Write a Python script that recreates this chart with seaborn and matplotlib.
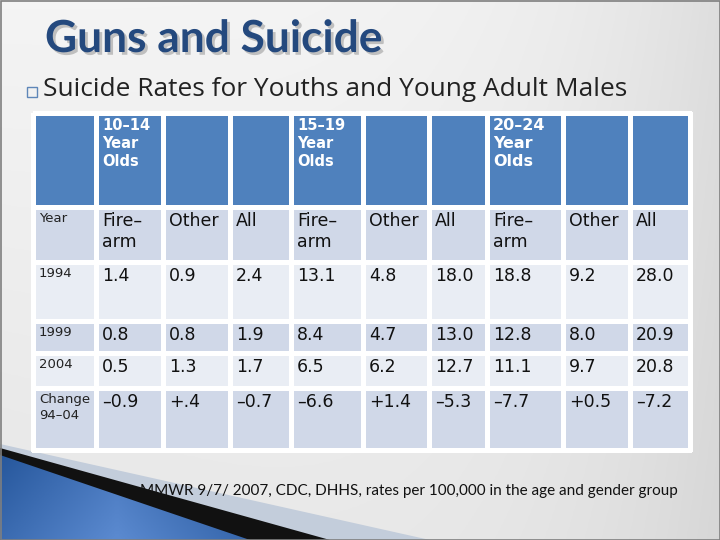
import numpy as np
import matplotlib.pyplot as plt
import matplotlib.patheffects as pe
import seaborn as sns
from matplotlib.colors import ListedColormap, LinearSegmentedColormap
from matplotlib.patches import Polygon, Rectangle

sns.set_theme(style='white')
plt.rcParams['font.family'] = ['DejaVu Sans']

# slide text
title = 'Guns and Suicide'
subtitle = 'Suicide Rates for Youths and Young Adult Males'
source = 'MMWR 9/7/ 2007, CDC, DHHS, rates per 100,000 in the age and gender group'

# table content
age_groups = ['10–14\nYear\nOlds', '15–19\nYear\nOlds', '20–24\nYear\nOlds']
methods = ['Fire–\narm', 'Other', 'All']
row_labels = ['1994', '1999', '2004', 'Change\n94–04']
rates_1994 = ['1.4', '0.9', '2.4', '13.1', '4.8', '18.0', '18.8', '9.2', '28.0']
rates_1999 = ['0.8', '0.8', '1.9', '8.4', '4.7', '13.0', '12.8', '8.0', '20.9']
rates_2004 = ['0.5', '1.3', '1.7', '6.5', '6.2', '12.7', '11.1', '9.7', '20.8']
change_94_04 = ['–0.9', '+.4', '–0.7', '–6.6', '+1.4', '–5.3', '–7.7', '+0.5', '–7.2']

# layout (pixels)
col_edges = [33, 96, 163, 230, 291, 363, 429, 487, 563, 630, 690]
row_edges = [113, 207, 262, 321, 353, 388, 450]
band = np.array([[0] * 10, [1] * 10, [2] * 10, [1] * 10, [2] * 10, [1] * 10])
band_cmap = ListedColormap(['#4F81BD', '#D0D8E8', '#E9EDF4'])

fig = plt.figure(figsize=(7.2, 5.4), dpi=100)
ax = fig.add_axes([0, 0, 1, 1])
ax.set_xlim(0, 720)
ax.set_ylim(540, 0)
ax.axis('off')
renderer = fig.canvas.get_renderer()


def fit_width(t, width):
    # scale the font so the text spans the given pixel width
    w = t.get_window_extent(renderer).width
    t.set_fontsize(t.get_fontsize() * width / w)


# slide background
gx, gy = np.meshgrid(np.linspace(0, 1, 240), np.linspace(0, 1, 180))
shade = 0.15 * gx ** 4 + 0.05 * gy + 0.04 * (1 - gx) * gy
bg_cmap = LinearSegmentedColormap.from_list('bg', ['#F4F4F4', '#C8C8C8'])
ax.imshow(shade, extent=(0, 720, 540, 0), cmap=bg_cmap, vmin=0, vmax=0.3,
          aspect='auto', zorder=0)
ax.add_patch(Rectangle((0.5, 0.5), 719, 539, fill=False, ec='#7F7F7F', lw=1.2, zorder=5))

# bottom-left swoosh
ax.add_patch(Polygon([(0, 444), (430, 540), (0, 540)], closed=True, fc='#C3CDDB', ec='none', zorder=1))
ax.add_patch(Polygon([(0, 448), (330, 540), (0, 540)], closed=True, fc='#111111', ec='none', zorder=1))
swoosh = Polygon([(0, 455), (250, 540), (0, 540)], closed=True, fc='none', ec='none', zorder=1)
ax.add_patch(swoosh)
sx, sy = np.meshgrid(np.linspace(0, 1, 100), np.linspace(0, 1, 60))
blue = ax.imshow(np.abs(sx - 0.45) + 0.3 * (1 - sy), extent=(0, 260, 540, 450),
                 cmap=LinearSegmentedColormap.from_list('bl', ['#5B8AD0', '#1E4F94']),
                 aspect='auto', zorder=2)
blue.set_clip_path(swoosh)

# title and subtitle
head = ax.text(45, 39, title, fontsize=32, fontweight='bold', color='#24497E',
               family=['Lato'], va='center', zorder=4,
               path_effects=[pe.withSimplePatchShadow(offset=(2, -2), shadow_rgbFace='#BFBFBF', alpha=1)])
fit_width(head, 338)
ax.add_patch(Rectangle((27, 87), 10, 10, fill=False, ec='#5E86B8', lw=1, zorder=4))
sub = ax.text(43, 89, subtitle, fontsize=16.5, color='#222222', family=['Open Sans'],
              va='center', zorder=4)
fit_width(sub, 582)

# table cells
ax.pcolormesh(col_edges, row_edges, band, cmap=band_cmap, vmin=-0.5, vmax=2.5,
              edgecolors='white', linewidth=2.5, zorder=3)


def cell_text(r, c, s, **kw):
    ax.text(col_edges[c] + 6, row_edges[r] + 5, s, va='top', ha='left', zorder=4, **kw)


for i, grp in enumerate(age_groups):
    cell_text(0, 1 + 3 * i, grp, color='white', fontweight='bold',
              fontsize=11.5 if i == 2 else 10.5, linespacing=1.25)

cell_text(1, 0, 'Year', fontsize=9.5, color='#222222')
for i in range(3):
    for j, m in enumerate(methods):
        cell_text(1, 1 + 3 * i + j, m, fontsize=12.5, color='#111111', linespacing=1.2)

table_rows = [rates_1994, rates_1999, rates_2004, change_94_04]
for k, (lab, vals) in enumerate(zip(row_labels, table_rows)):
    cell_text(2 + k, 0, lab, fontsize=9.5, color='#222222', linespacing=1.3)
    for j, v in enumerate(vals):
        cell_text(2 + k, 1 + j, v, fontsize=12.5, color='#111111')

# source note
note = ax.text(140, 491, source, fontsize=11, color='#111111',
               family=['Lato'], va='center', zorder=4)
fit_width(note, 537)

fig.savefig('out.png', dpi=100)
